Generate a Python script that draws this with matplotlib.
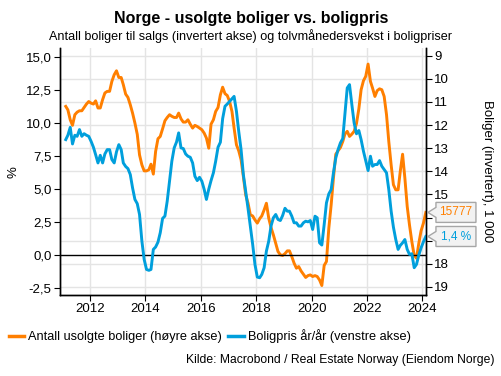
import numpy as np
import pandas as pd
import matplotlib
matplotlib.use("Agg")
import matplotlib.pyplot as plt
import matplotlib.dates as mdates
import matplotlib.transforms as mtransforms
from matplotlib.patches import Polygon
from matplotlib.ticker import FuncFormatter, MultipleLocator

plt.rcParams['font.family'] = ['Liberation Sans', 'DejaVu Sans']

# månedlige data, jan 2011 - jan 2024
dates = pd.date_range('2011-01-15', periods=157, freq='MS') + pd.Timedelta(days=14)

# boligpris år/år, % (venstre akse)
boligpris = [
    8.76, 9.09, 9.69, 8.43, 9.09, 9.01, 9.52, 9.01, 9.21, 9.09, 9.01, 8.63,
    8.18, 7.62, 6.99, 7.57, 6.99, 7.67, 8.00, 8.00, 7.25, 6.99, 7.83, 8.38,
    8.00, 6.99, 6.72, 6.56, 6.11, 5.10, 4.22, 3.90, 3.08, 1.06, -0.33, -1.09,
    -1.16, -1.09, 0.43, 0.61, 0.98, 1.69, 2.78, 2.96, 4.09, 5.60, 7.12, 8.13,
    8.58, 9.27, 8.13, 8.08, 7.67, 7.50, 7.42, 6.99, 5.98, 5.65, 5.90, 5.60,
    4.97, 4.22, 5.00, 5.65, 6.24, 7.12, 8.18, 8.56, 10.35, 11.29, 11.46, 11.66,
    11.87, 12.04, 10.91, 9.39, 8.00, 6.11, 4.85, 3.53, 2.20, 0.81, -0.71, -1.67,
    -1.72, -1.47, -0.96, 0.30, 1.06, 2.20, 2.83, 3.08, 2.70, 2.62, 3.00, 3.55,
    3.33, 3.33, 2.95, 2.45, 2.45, 2.20, 2.20, 2.45, 2.57, 2.52, 2.62, 1.94,
    2.95, 2.83, 0.93, 0.76, 2.32, 3.96, 4.64, 4.97, 6.24, 7.37, 8.00, 8.51,
    8.84, 10.65, 12.68, 12.93, 11.41, 10.02, 9.20, 9.45, 8.76, 7.88, 7.17, 6.41,
    7.50, 6.74, 6.87, 6.87, 7.17, 6.74, 6.49, 6.24, 4.97, 3.33, 2.12, 1.18,
    0.43, 0.73, 0.93, 1.18, 0.43, 0.05, 0.10, -0.96, -0.71, 0.00, 0.55, 1.01,
    1.41,
]

# antall usolgte boliger, 1 000 (høyre akse, invertert)
usolgte = [
    11.19, 11.34, 11.77, 12.01, 11.55, 11.44, 11.38, 11.38, 11.24, 11.09, 10.98, 11.05,
    11.09, 10.95, 11.26, 11.26, 10.90, 10.61, 10.54, 10.54, 10.11, 9.82, 9.65, 9.94,
    9.94, 10.25, 10.66, 10.80, 11.12, 11.48, 11.91, 12.40, 13.29, 13.72, 13.98, 13.98,
    13.93, 13.69, 14.12, 13.14, 12.59, 12.49, 12.16, 11.81, 11.67, 11.55, 11.62, 11.67,
    11.67, 11.48, 11.73, 11.87, 11.87, 11.77, 11.96, 12.13, 12.01, 12.06, 12.13, 12.20,
    12.35, 12.56, 13.00, 11.96, 11.77, 11.41, 11.24, 10.69, 10.36, 10.64, 10.72, 10.98,
    11.41, 12.13, 12.85, 13.11, 13.50, 14.22, 15.02, 15.38, 15.88, 15.93, 16.10, 16.24,
    16.05, 15.93, 15.67, 15.38, 16.03, 16.43, 16.75, 17.11, 17.47, 17.61, 17.64, 17.56,
    17.44, 17.44, 17.69, 17.97, 18.19, 18.12, 18.31, 18.45, 18.59, 18.51, 18.48, 18.55,
    18.51, 18.55, 18.70, 18.94, 18.07, 17.90, 16.46, 15.45, 14.29, 13.26, 13.11, 12.97,
    12.71, 12.39, 12.27, 12.49, 12.39, 12.27, 11.93, 11.30, 10.47, 10.08, 9.89, 9.36,
    10.11, 10.40, 10.76, 10.51, 10.43, 10.47, 10.76, 11.55, 12.71, 13.72, 14.58, 14.80,
    14.80, 14.01, 13.26, 14.29, 15.52, 16.32, 17.04, 17.64, 17.76, 17.11, 16.57, 16.24,
    15.777,
]

siste_usolgte = '15777'
siste_pris = '1,4 %'

# tall på høyre akse som ligger skjult bak verdi-boksene
skjulte_ticks = [16, 17]

orange = '#ff7f00'
blue = '#009fdc'
grid_col = '#e4e4e4'

fig = plt.figure(figsize=(5.02, 3.76), dpi=100)
ax = fig.add_axes([0.1195, 0.2154, 0.729, 0.6566])
ax_r = ax.twinx()

# høyre akse under venstre, så blå linje ligger øverst
ax.set_zorder(ax_r.get_zorder() + 1)
ax.patch.set_visible(False)

ax_r.plot(dates, usolgte, color=orange, lw=2.1, solid_joinstyle='round')
ax.plot(dates, boligpris, color=blue, lw=2.1, solid_joinstyle='round')
ax.axhline(0, color='black', lw=1.0, zorder=1)

ax.set_xlim(pd.Timestamp('2010-12-01'), pd.Timestamp('2024-02-17'))
ax.set_ylim(-3.03, 15.7)
ax_r.set_ylim(19.35, 8.67)

ax.xaxis.set_major_locator(mdates.YearLocator(2))
ax.xaxis.set_major_formatter(mdates.DateFormatter('%Y'))
ax.yaxis.set_major_locator(MultipleLocator(2.5))
ax.yaxis.set_major_formatter(FuncFormatter(lambda v, p: f'{v:.1f}'.replace('.', ',')))
ax_r.yaxis.set_major_locator(MultipleLocator(1))
ax_r.yaxis.set_major_formatter(
    FuncFormatter(lambda v, p: '' if round(v) in skjulte_ticks else f'{v:.0f}'))

# rutenett: vannrett fra høyre akse, loddrett fra årstall
ax_r.grid(axis='y', color=grid_col, lw=1.0)
for t in ax.get_xticks():
    ax_r.axvline(t, color=grid_col, lw=1.0, zorder=0)

for a in (ax, ax_r):
    a.spines['top'].set_visible(False)
    for s in ('left', 'right', 'bottom'):
        a.spines[s].set_linewidth(1.0)
    a.tick_params(labelsize=9.5, length=4, width=0.8, colors='black', pad=2)

ax.set_ylabel('%', fontsize=9.5, va='center')
ax.yaxis.set_label_coords(-0.128, 0.5)
ax_r.set_ylabel('Boliger (invertert), 1 000', fontsize=9.5, rotation=270, va='center')
ax_r.yaxis.set_label_coords(1.167, 0.5)

fig.text(0.5, 0.952, 'Norge - usolgte boliger vs. boligpris', ha='center', va='center',
         fontsize=11.5, fontweight='bold')
fig.text(0.5, 0.904, 'Antall boliger til salgs (invertert akse) og tolvmånedersvekst i boligpriser',
         ha='center', va='center', fontsize=9.1)
fig.text(0.986, 0.043, 'Kilde: Macrobond / Real Estate Norway (Eiendom Norge)',
         ha='right', va='center', fontsize=8.7)

# verdi-bokser til høyre for aksen, over tallene på høyre akse
def callout(axis, val, text, color):
    base = mtransforms.blended_transform_factory(ax.transAxes, axis.transData)
    tr = mtransforms.Affine2D() + mtransforms.ScaledTranslation(1.0, val, base)
    pts = [(2, 0), (10, 5), (10, 10), (50, 10), (50, -10), (10, -10), (10, -5)]
    fig.patches.append(Polygon(pts, closed=True, transform=tr, facecolor='#f2f2f2',
                               edgecolor='#a6a6a6', lw=1.0, clip_on=False, zorder=20))
    fig.text(30, 0, text, transform=tr, ha='center', va='center', color=color,
             fontsize=8.5, zorder=21)

callout(ax_r, usolgte[-1], siste_usolgte, orange)
callout(ax, boligpris[-1], siste_pris, blue)

h1, = ax.plot([], [], color=orange, lw=2.5)
h2, = ax.plot([], [], color=blue, lw=2.5)
fig.legend([h1, h2], ['Antall usolgte boliger (høyre akse)', 'Boligpris år/år (venstre akse)'],
           loc='center left', bbox_to_anchor=(0.018, 0.106), frameon=False, fontsize=9.2,
           ncol=2, handlelength=1.2, handletextpad=0.3, columnspacing=0.5,
           borderpad=0, borderaxespad=0)

fig.savefig('out.png', dpi=100)
